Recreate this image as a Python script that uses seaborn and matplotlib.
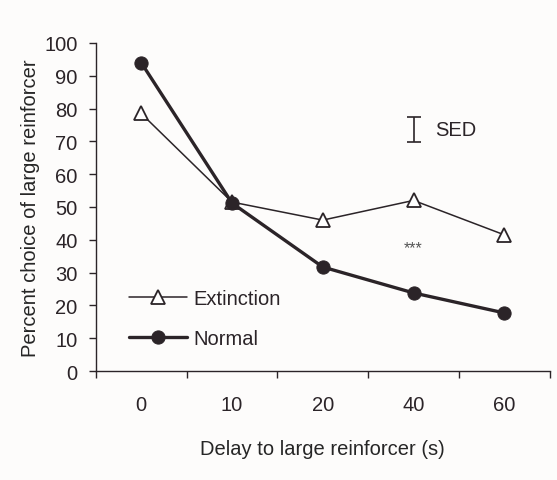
import numpy as np
import pandas as pd
import matplotlib
matplotlib.use("Agg")
import matplotlib.pyplot as plt
import seaborn as sns

# ── Data ──────────────────────────────────────────────────────────────────────
delays = ["0", "10", "20", "40", "60"]
extinction = [78.5, 51.5, 46.0, 52.0, 41.5]
normal = [94.0, 51.2, 31.7, 23.8, 17.7]
sed_center = 73.6
sed_half = 3.8

INK = "#2b2428"
BG = "#fdfcfb"
FS = 14.5

sns.set_theme(style="ticks")
plt.rcParams.update({
    "font.family": ["Liberation Sans", "DejaVu Sans"],
    "text.color": INK,
    "axes.edgecolor": INK,
    "xtick.color": INK,
    "ytick.color": INK,
})

pos = np.arange(len(delays))
df = pd.DataFrame({"pos": np.concatenate([pos, pos]),
                   "value": extinction + normal,
                   "group": ["Extinction"] * 5 + ["Normal"] * 5})

fig = plt.figure(figsize=(5.57, 4.81), dpi=100, facecolor=BG)
ax = fig.add_axes([0.172, 0.2266, 0.815, 0.682])
ax.set_facecolor(BG)

sns.lineplot(data=df[df.group == "Extinction"], x="pos", y="value", ax=ax,
             color=INK, lw=1.1, marker="^", markersize=9.5,
             markerfacecolor="white", markeredgecolor=INK, markeredgewidth=1.3,
             label="Extinction", zorder=3)
sns.lineplot(data=df[df.group == "Normal"], x="pos", y="value", ax=ax,
             color=INK, lw=2.4, marker="o", markersize=9.5,
             markerfacecolor=INK, markeredgecolor=INK,
             label="Normal", zorder=4)

# SED bar and significance marker
ax.errorbar(3, sed_center, yerr=sed_half, fmt="none", ecolor=INK,
            elinewidth=1.2, capsize=5, capthick=1.2)
ax.text(3.24, sed_center, "SED", fontsize=FS, va="center", ha="left")
ax.text(3, 37.5, "***", fontsize=11.5, ha="center", va="center", color="#555")

# Axes
ax.set_xlim(-0.5, 4.5)
ax.set_ylim(0, 100)
ax.set_xticks(np.arange(-0.5, 5.0, 1.0))
ax.set_xticklabels([])
ax.set_xticks(pos, minor=True)
ax.set_xticklabels(delays, minor=True)
ax.tick_params(axis="x", which="minor", length=0, pad=17, labelsize=FS)
ax.tick_params(axis="x", which="major", length=5, width=1, direction="out")
ax.set_yticks(np.arange(0, 101, 10))
ax.tick_params(axis="y", length=5, width=1, direction="out", labelsize=FS, pad=8)
for side in ["top", "right"]:
    ax.spines[side].set_visible(False)
for side in ["left", "bottom"]:
    ax.spines[side].set_linewidth(1)

ax.set_xlabel("Delay to large reinforcer (s)", fontsize=FS, labelpad=18)
ax.set_ylabel("Percent choice of large reinforcer", fontsize=FS, labelpad=3)

ax.legend(loc="lower left", bbox_to_anchor=(0.055, 0.045), borderaxespad=0,
          frameon=False, fontsize=FS, handlelength=2.9, labelspacing=1.05,
          handletextpad=0.3)

fig.savefig("out.png", dpi=100, facecolor=BG)
